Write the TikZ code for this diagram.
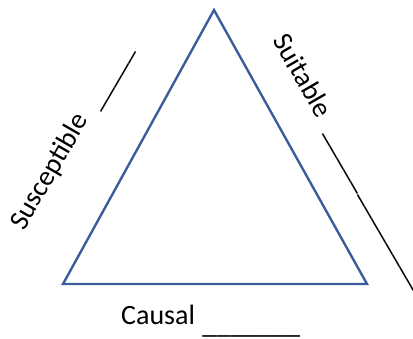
\documentclass[tikz,border=0pt]{standalone}
\usepackage{fontspec}
\setmainfont{Carlito}
\begin{document}
\begin{tikzpicture}[x=1pt,y=-1pt,
  tri/.style={draw=triblue,line width=2.4pt,line join=miter},
  lbl/.style={inner sep=0pt,anchor=base west,font=\fontsize{28}{32}\selectfont}]
\definecolor{triblue}{RGB}{60,92,156}
\useasboundingbox (0,0) rectangle (413,339);
\coordinate (top) at (214,10);
\coordinate (bl) at (63,284);
\coordinate (br) at (367,284);
\draw[tri] (top) -- (bl) -- (br) -- cycle;
\node[lbl,rotate=60] (sus) at (24,232) {Susceptible\hspace{6pt} \raisebox{-4pt}{\_\_\_\_\_}};
\node[lbl,rotate=-60] (sui) at (272,40) {Suitable\hspace{9pt} \_\_\_\_\_\_\_\_\_\_\_\_\_\_};
\node[lbl] (cau) at (121,325) {Causal\hspace{1pt} \raisebox{-9pt}{\_\_\_\_\_\_\_}};
\end{tikzpicture}
\end{document}
